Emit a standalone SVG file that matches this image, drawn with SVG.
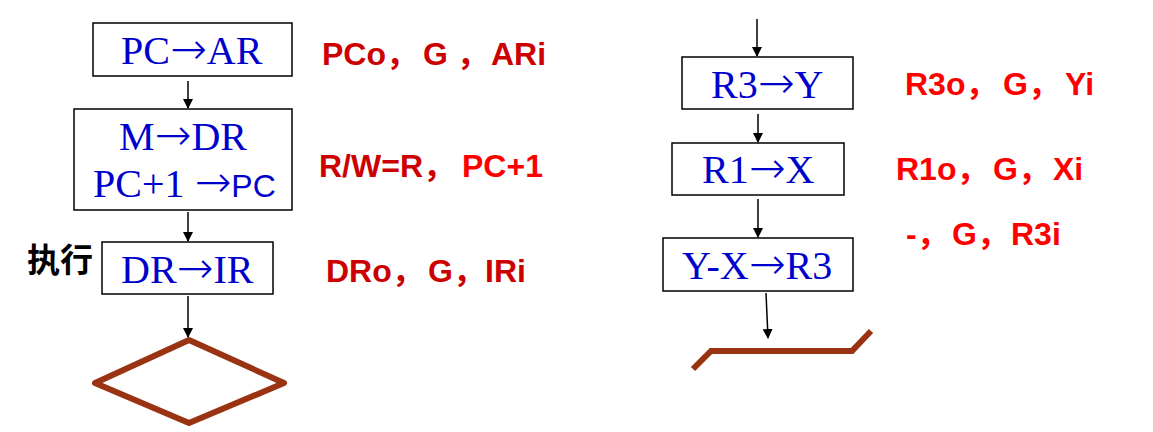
<svg xmlns="http://www.w3.org/2000/svg" width="1153" height="432" viewBox="0 0 1153 432">
<style>
.box{fill:#fff;stroke:#000;stroke-width:1.5}
.op{font-family:"Liberation Serif",serif;font-size:40px;fill:#0000CC;text-anchor:start}
.ar{font-family:"DejaVu Sans",sans-serif;font-size:44px;font-weight:200}
.sans{font-family:"Liberation Sans",Arial,sans-serif;font-size:32px}
.sig{font-family:"Liberation Sans",Arial,"Noto Sans CJK SC",sans-serif;font-weight:bold;font-size:32px}
.dk{fill:#CC0000}
.rd{fill:#FF0000}
.conn{stroke:#000;stroke-width:1.5;fill:none}
.brown{stroke:#993311;fill:none;stroke-width:6}
</style>
<defs>
<marker id="ah" markerWidth="10" markerHeight="12" refX="9" refY="5" orient="auto" markerUnits="userSpaceOnUse" viewBox="0 0 10 10">
<path d="M0,0 L10,5 L0,10 Z" fill="#000"/>
</marker>
</defs>
<g id="connectors">
<line class="conn" x1="188" y1="81" x2="188" y2="108" marker-end="url(#ah)"/>
<line class="conn" x1="188" y1="212" x2="188" y2="241" marker-end="url(#ah)"/>
<line class="conn" x1="188" y1="296" x2="188" y2="337" marker-end="url(#ah)"/>
<line class="conn" x1="757" y1="19" x2="757" y2="56" marker-end="url(#ah)"/>
<line class="conn" x1="758" y1="114" x2="758" y2="142" marker-end="url(#ah)"/>
<line class="conn" x1="758" y1="199" x2="758" y2="237" marker-end="url(#ah)"/>
<line class="conn" x1="766" y1="293" x2="768" y2="338" marker-end="url(#ah)"/>
</g>
<g id="n_pc_ar">
<rect class="box" x="93" y="23" width="199" height="53"/>
<text class="op" x="121" y="64">PC<tspan class="ar">→</tspan>AR</text>
</g>
<g id="n_m_dr">
<rect class="box" x="74" y="109" width="218" height="101"/>
<text class="op" x="119" y="150">M<tspan class="ar">→</tspan>DR</text>
<text class="op" x="93" y="197">PC+1 <tspan class="ar" font-size="37">→</tspan><tspan class="sans">PC</tspan></text>
</g>
<g id="n_dr_ir">
<rect class="box" x="102" y="242" width="171" height="52"/>
<text class="op" x="121" y="283">DR<tspan class="ar">→</tspan>IR</text>
</g>
<g id="n_exec">
<text x="27" y="272" font-family="Noto Sans CJK SC,sans-serif" font-size="33" font-weight="bold" fill="#000">执行</text>
</g>
<g id="n_diamond">
<polygon class="brown" points="189,340 284,383 189,423 95,383" stroke-linejoin="round"/>
</g>
<g id="n_r3_y">
<rect class="box" x="682" y="57" width="171" height="52"/>
<text class="op" x="711" y="98">R3<tspan class="ar">→</tspan>Y</text>
</g>
<g id="n_r1_x">
<rect class="box" x="672" y="143" width="172" height="52"/>
<text class="op" x="702" y="183">R1<tspan class="ar">→</tspan>X</text>
</g>
<g id="n_yx_r3">
<rect class="box" x="663" y="238" width="190" height="53"/>
<text class="op" x="682" y="279">Y-X<tspan class="ar">→</tspan>R3</text>
</g>
<g id="n_para">
<polyline class="brown" stroke-width="7" points="693,369 711,351 852,351 871,331"/>
</g>
<g id="labels">
<text class="sig dk" y="65"><tspan x="322">PCo，</tspan><tspan x="423">G ，</tspan><tspan x="491">ARi</tspan></text>
<text class="sig" y="177"><tspan class="dk" x="319">R/W=R，</tspan><tspan class="rd" x="462">PC+1</tspan></text>
<text class="sig dk" y="282"><tspan x="326">DRo，</tspan><tspan x="428">G，</tspan><tspan x="485">IRi</tspan></text>
<text class="sig rd" y="95"><tspan x="905">R3o，</tspan><tspan x="1003">G，</tspan><tspan x="1065">Yi</tspan></text>
<text class="sig rd" y="180"><tspan x="896">R1o，</tspan><tspan x="993">G，</tspan><tspan x="1053">Xi</tspan></text>
<text class="sig rd" y="245"><tspan x="906">-，</tspan><tspan x="952">G，</tspan><tspan x="1011">R3i</tspan></text>
</g>
</svg>
